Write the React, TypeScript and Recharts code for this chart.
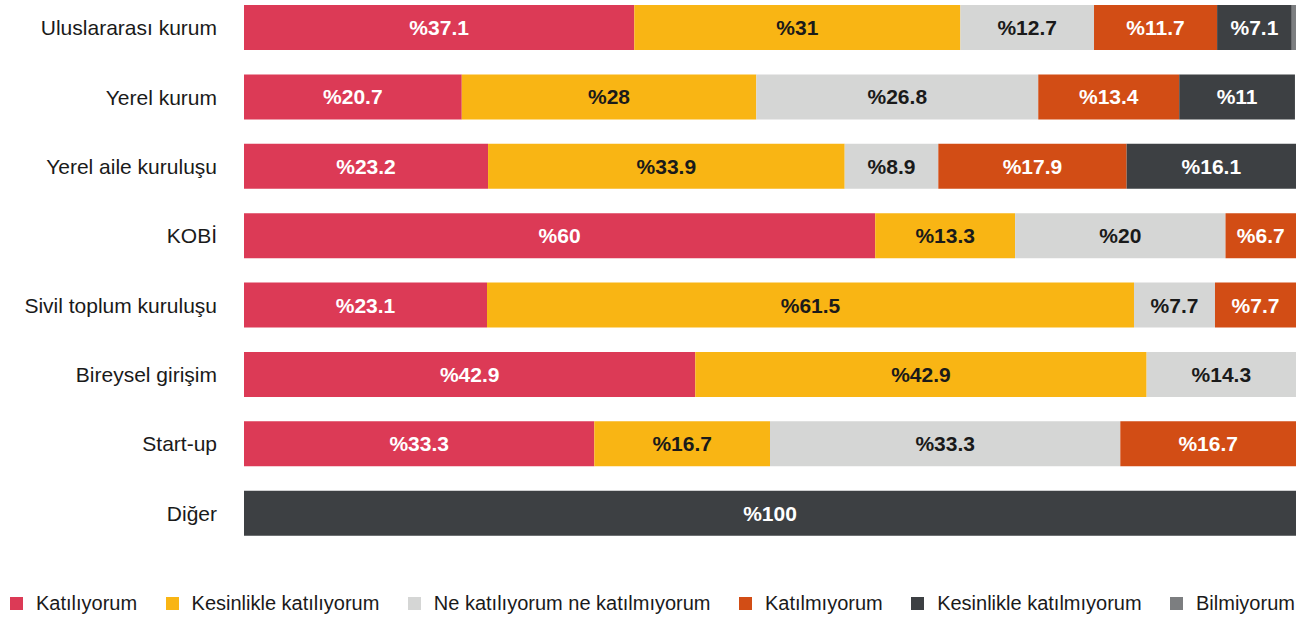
import React from 'react';
import { BarChart, Bar, XAxis, YAxis, Legend, LabelList } from 'recharts';

const categories = [
  'Uluslararası kurum',
  'Yerel kurum',
  'Yerel aile kuruluşu',
  'KOBİ',
  'Sivil toplum kuruluşu',
  'Bireysel girişim',
  'Start-up',
  'Diğer',
];

const katiliyorum = [37.1, 20.7, 23.2, 60, 23.1, 42.9, 33.3, null];
const kesinlikleKatiliyorum = [31, 28, 33.9, 13.3, 61.5, 42.9, 16.7, null];
const neKatiliyorum = [12.7, 26.8, 8.9, 20, 7.7, 14.3, 33.3, null];
const katilmiyorum = [11.7, 13.4, 17.9, 6.7, 7.7, null, 16.7, null];
const kesinlikleKatilmiyorum = [7.1, 11, 16.1, null, null, null, null, 100];
const bilmiyorum = [0.4, null, null, null, null, null, null, null];

const series = [
  { key: 'k1', name: 'Katılıyorum', values: katiliyorum, color: '#DC3A56', text: '#FFFFFF' },
  { key: 'k2', name: 'Kesinlikle katılıyorum', values: kesinlikleKatiliyorum, color: '#F9B514', text: '#1A1A1A' },
  { key: 'k3', name: 'Ne katılıyorum ne katılmıyorum', values: neKatiliyorum, color: '#D5D6D5', text: '#1A1A1A' },
  { key: 'k4', name: 'Katılmıyorum', values: katilmiyorum, color: '#D24D15', text: '#FFFFFF' },
  { key: 'k5', name: 'Kesinlikle katılmıyorum', values: kesinlikleKatilmiyorum, color: '#3D4043', text: '#FFFFFF' },
  { key: 'k6', name: 'Bilmiyorum', values: bilmiyorum, color: '#7C7E80', text: '#FFFFFF' },
];

const data = categories.map((name, i) => {
  const row: Record<string, any> = { name };
  series.forEach((s) => {
    row[s.key] = s.values[i];
  });
  return row;
});

const FONT = '"Liberation Sans", Arial, sans-serif';

const makeLabel = (color: string) => (props: any) => {
  const { x, y, width, height, value } = props;
  if (value == null || width < 30) return null;
  return (
    <text
      x={Number(x) + Number(width) / 2}
      y={Number(y) + Number(height) / 2}
      fill={color}
      textAnchor="middle"
      dominantBaseline="central"
      fontSize={21}
      fontWeight={700}
      fontFamily={FONT}
    >
      {`%${value}`}
    </text>
  );
};

const renderLegend = () => (
  <div
    style={{
      display: 'flex',
      justifyContent: 'space-between',
      height: 69,
      paddingTop: 42,
      boxSizing: 'border-box',
      fontFamily: FONT,
      fontSize: 20,
      color: '#1A1A1A',
      lineHeight: '23px',
    }}
  >
    {series.map((s) => (
      <div key={s.key} style={{ display: 'flex', alignItems: 'center' }}>
        <span
          style={{ width: 13, height: 13, background: s.color, marginRight: 13, display: 'inline-block' }}
        />
        {s.name}
      </div>
    ))}
  </div>
);

export default function App() {
  return (
    <div style={{ position: 'absolute', left: 0, top: -7, fontFamily: FONT }}>
      <BarChart
        width={1315}
        height={624}
        data={data}
        layout="vertical"
        margin={{ top: 0, right: 19, bottom: 0, left: 0 }}
      >
        <XAxis type="number" domain={[0, 100]} allowDataOverflow hide />
        <YAxis
          type="category"
          dataKey="name"
          width={244}
          axisLine={false}
          tickLine={false}
          tickSize={0}
          tickMargin={27}
          tick={{ fill: '#1A1A1A', fontSize: 21, fontFamily: FONT }}
        />
        <Legend
          verticalAlign="bottom"
          content={renderLegend}
          wrapperStyle={{ left: 10, width: 1285, bottom: 0 }}
        />
        {series.map((s) => (
          <Bar
            key={s.key}
            dataKey={s.key}
            name={s.name}
            stackId="a"
            fill={s.color}
            barSize={45}
            isAnimationActive={false}
          >
            <LabelList dataKey={s.key} content={makeLabel(s.text)} />
          </Bar>
        ))}
      </BarChart>
    </div>
  );
}
